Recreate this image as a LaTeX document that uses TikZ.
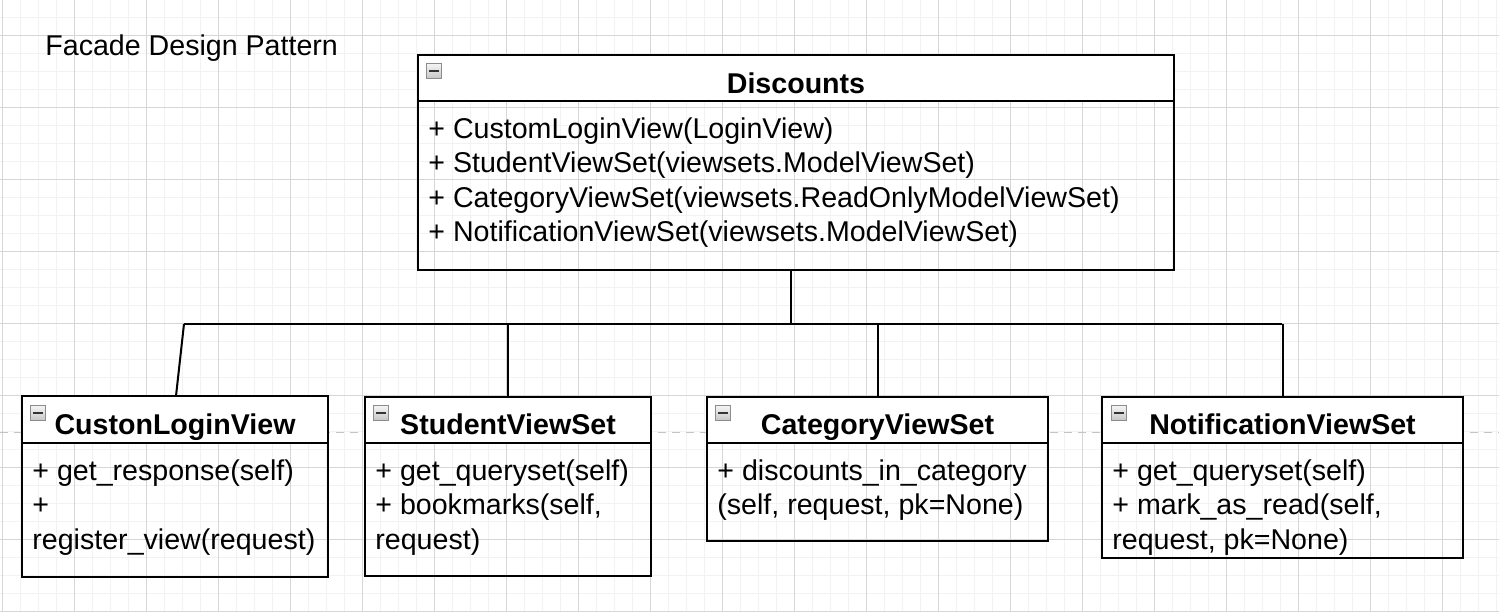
\documentclass[tikz,border=0pt]{standalone}
\usepackage{fontspec}
\setmainfont{Liberation Sans}
\usetikzlibrary{fit, positioning}
\usepackage{xcolor}
\definecolor{gridminor}{HTML}{F2F2F2}
\definecolor{gridmajor}{HTML}{D6D6D6}
\definecolor{guidegray}{HTML}{C4C4C4}
\definecolor{icongray}{HTML}{8C8C8C}
\newcommand{\umlfont}{\fontsize{14.3pt}{17pt}\selectfont}
\tikzset{
  grid minor/.style={gridminor, line width=0.5pt},
  grid major/.style={gridmajor, line width=0.5pt},
  guide/.style={guidegray, line width=0.5pt, dash pattern=on 4pt off 3pt},
  class box/.style={draw, line width=1pt, inner sep=0pt, outer sep=0pt},
  class head/.style={class box, fill=white},
  class title/.style={font=\umlfont\bfseries, anchor=base, inner sep=0pt},
  member/.style={font=\umlfont, anchor=base west, inner sep=0pt},
  minus icon/.style={draw=icongray, line width=0.5pt, top color=gray!8, bottom color=gray!45,
    minimum size=7.5pt, inner sep=0pt,
    path picture={\draw[black!80, line width=1pt]
      ([xshift=-2.3pt]path picture bounding box.center) -- ([xshift=2.3pt]path picture bounding box.center);}},
  connect/.style={line width=1pt, black}
}

\begin{document}
\begin{tikzpicture}[x=0.5pt,y=-0.5pt]
  \useasboundingbox (0,0) rectangle (1499,611);

  % --- BACKGROUND GRID ---
  \fill[white] (0,0) rectangle (1499,611);
  \foreach \gx in {2,20,...,1499} \draw[grid minor] (\gx,0) -- (\gx,611);
  \foreach \gy in {-1,17,...,611} \draw[grid minor] (0,\gy) -- (1499,\gy);
  \foreach \gx in {2,74,...,1499} \draw[grid major] (\gx,0) -- (\gx,611);
  \foreach \gy in {35,107,...,611} \draw[grid major] (0,\gy) -- (1499,\gy);
  \draw[guide] (0,432) -- (1499,432);

  \node[member] (caption) at (45,55) {Facade Design Pattern};

  % --- FACADE: DISCOUNTS ---
  \node[class head, fit={(418,55) (1174,101)}] (discounts-head) {};
  \node[class box, fit={(418,55) (1174,270)}] (discounts) {};
  \node[minus icon] (discounts-icon) at ([xshift=8pt,yshift=-8pt]discounts.north west) {};
  \node[class title] (discounts-title) at ([yshift=-19pt]discounts.north) {Discounts};
  \foreach \txt [count=\k, evaluate=\k as \dy using -18.5-(\k-1)*17.25] in
    {{+ CustomLoginView(LoginView)}, {+ StudentViewSet(viewsets.ModelViewSet)},
     {+ CategoryViewSet(viewsets.ReadOnlyModelViewSet)}, {+ NotificationViewSet(viewsets.ModelViewSet)}}
    \node[member] (discounts-m\k) at ([xshift=5pt,yshift=\dy pt]discounts-head.south west) {\txt};

  % --- SUBSYSTEMS ---
  % CustonLoginView
  \node[class head, fit={(22,396) (328,443)}] (login-head) {};
  \node[class box, fit={(22,396) (328,577)}] (login) {};
  \node[minus icon] (login-icon) at ([xshift=8pt,yshift=-8.5pt]login.north west) {};
  \node[class title] (login-title) at ([yshift=-19pt]login.north) {CustonLoginView};
  \foreach \txt [count=\k, evaluate=\k as \dy using -18.5-(\k-1)*17.25] in
    {{+ get\_response(self)}, {+}, {register\_view(request)}}
    \node[member] (login-m\k) at ([xshift=5pt,yshift=\dy pt]login-head.south west) {\txt};

  % StudentViewSet
  \node[class head, fit={(365,397) (651,443)}] (student-head) {};
  \node[class box, fit={(365,397) (651,576)}] (student) {};
  \node[minus icon] (student-icon) at ([xshift=8pt,yshift=-8pt]student.north west) {};
  \node[class title] (student-title) at ([yshift=-18.5pt]student.north) {StudentViewSet};
  \foreach \txt [count=\k, evaluate=\k as \dy using -18.5-(\k-1)*17.25] in
    {{+ get\_queryset(self)}, {+ bookmarks(self,}, {request)}}
    \node[member] (student-m\k) at ([xshift=5pt,yshift=\dy pt]student-head.south west) {\txt};

  % CategoryViewSet
  \node[class head, fit={(707,397) (1048,443)}] (category-head) {};
  \node[class box, fit={(707,397) (1048,541)}] (category) {};
  \node[minus icon] (category-icon) at ([xshift=8pt,yshift=-8pt]category.north west) {};
  \node[class title] (category-title) at ([yshift=-18.5pt]category.north) {CategoryViewSet};
  \foreach \txt [count=\k, evaluate=\k as \dy using -18.5-(\k-1)*17.25] in
    {{+ discounts\_in\_category}, {(self, request, pk=None)}}
    \node[member] (category-m\k) at ([xshift=5pt,yshift=\dy pt]category-head.south west) {\txt};

  % NotificationViewSet
  \node[class head, fit={(1102,397) (1463,443)}] (notification-head) {};
  \node[class box, fit={(1102,397) (1463,558)}] (notification) {};
  \node[minus icon] (notification-icon) at ([xshift=8.5pt,yshift=-8pt]notification.north west) {};
  \node[class title] (notification-title) at ([yshift=-18.5pt]notification.north) {NotificationViewSet};
  \foreach \txt [count=\k, evaluate=\k as \dy using -18.5-(\k-1)*17.25] in
    {{+ get\_queryset(self)}, {+ mark\_as\_read(self,}, {request, pk=None)}}
    \node[member] (notification-m\k) at ([xshift=5pt,yshift=\dy pt]notification-head.south west) {\txt};

  % --- CONNECTIONS ---
  \coordinate (bus-L) at (184,324);
  \coordinate (bus-M) at (791,324);
  \coordinate (bus-R) at (1282,324);
  \draw[connect] (discounts.south -| bus-M) -- (bus-M);
  \draw[connect] (bus-L) -- (bus-R);
  \draw[connect] (bus-L) -- ([xshift=0.5pt]login.north);
  \foreach \c in {student,category,notification} \draw[connect] (\c.north) -- (\c.north |- bus-M);

\end{tikzpicture}
\end{document}
